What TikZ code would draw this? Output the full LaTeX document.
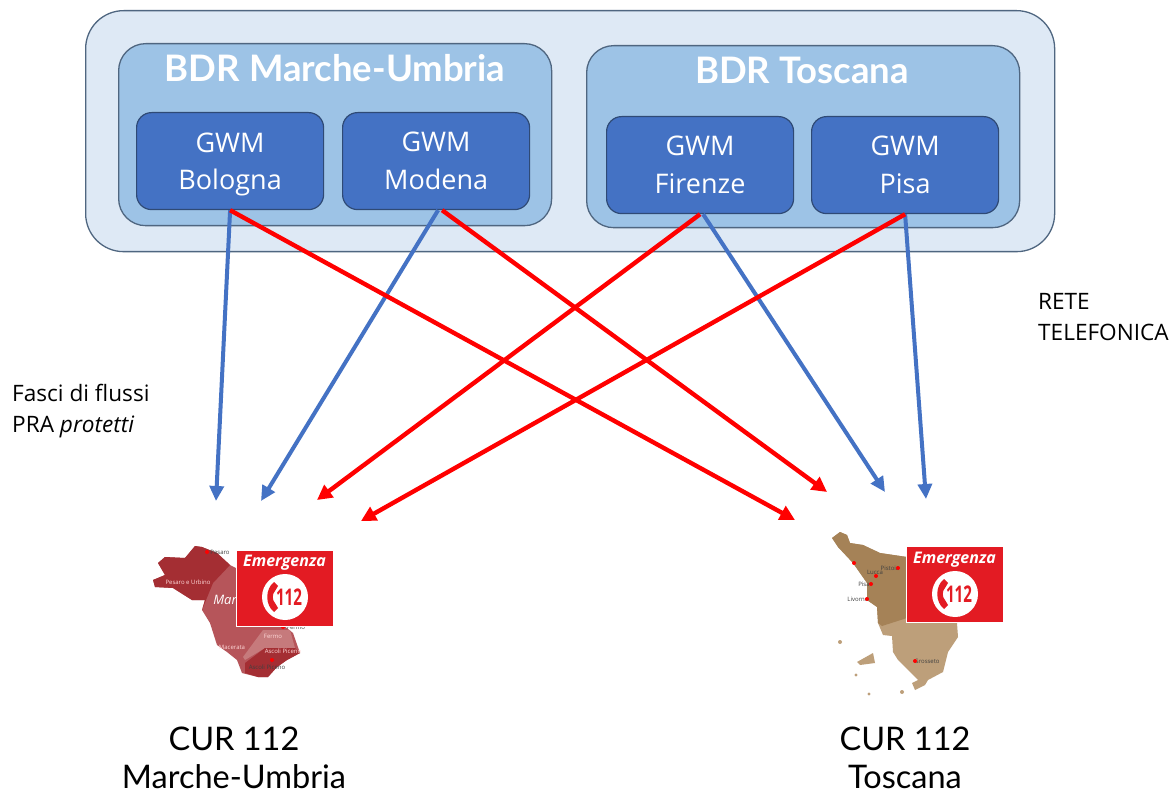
\documentclass[tikz,border=0pt]{standalone}
\usepackage{fontspec}
\setmainfont{Open Sans}
\newfontfamily\titlefont{Lato}
\usetikzlibrary{arrows.meta}
\definecolor{outerfill}{HTML}{DEE9F5}
\definecolor{midfill}{HTML}{9DC3E6}
\definecolor{gwmfill}{HTML}{4472C4}
\definecolor{edgeblue}{HTML}{4F6680}
\definecolor{gwmedge}{HTML}{2F4A75}
\definecolor{linkblue}{HTML}{4472C4}
\definecolor{badgered}{HTML}{E31B23}
\definecolor{mapdark}{HTML}{A42E33}
\definecolor{mapmid}{HTML}{B6555A}
\definecolor{mapsoft}{HTML}{C67A7C}
\definecolor{tosdark}{HTML}{A58257}
\definecolor{toslight}{HTML}{BD9F7A}
\tikzset{
  panel/.style={draw=edgeblue,line width=1.3pt,inner sep=0pt,anchor=north west},
  outerbox/.style={panel,fill=outerfill,rounded corners=38pt,minimum width=969pt,minimum height=241pt},
  bdrbox/.style={panel,fill=midfill,rounded corners=27pt,minimum width=433pt,minimum height=182pt},
  gwmbox/.style={draw=gwmedge,line width=1.2pt,fill=gwmfill,rounded corners=15pt,inner sep=0pt,
    minimum width=187pt,minimum height=97pt,text=white,align=center,font=\fontsize{27}{37.5}\selectfont,anchor=north west},
  bdrtitle/.style={text=white,font=\titlefont\bfseries\fontsize{36.5}{40}\selectfont,inner sep=0pt},
  bluelink/.style={draw=linkblue,line width=4pt,-{Triangle[length=15pt,width=14pt]}},
  redlink/.style={draw=red,line width=4.4pt,-{Triangle[length=15pt,width=15pt]}},
  note/.style={align=left,anchor=west,inner sep=0pt,font=\fontsize{22.6}{31}\selectfont,text=black},
  curlabel/.style={align=center,inner sep=0pt,font=\titlefont\fontsize{32.5}{38}\selectfont,text=black},
  badge/.style={fill=badgered,draw=white,line width=1.2pt,minimum width=97pt,minimum height=76pt,inner sep=0pt,anchor=north west},
  badgetext/.style={text=white,inner sep=0pt,font=\itshape\bfseries\fontsize{16}{18}\selectfont},
  badgedisc/.style={circle,fill=white,minimum size=46pt,inner sep=0pt},
  badgenum/.style={text=badgered,inner sep=0pt,font=\bfseries\fontsize{23}{25}\selectfont},
  tiny/.style={inner sep=0pt,font=\fontsize{6}{7}\selectfont,text=white!85!red},
  tinyblack/.style={inner sep=0pt,font=\fontsize{6}{7}\selectfont,text=black!75},
  phoneicon/.pic={
    \fill[badgered] (-11,-15) .. controls (-20,-8) and (-20,8) .. (-11,15) -- (-7,11) -- (-10,6)
      .. controls (-13,3) and (-13,-3) .. (-10,-6) -- (-7,-11) -- cycle;
  }
}
\newcommand{\nodepth}[1]{\raisebox{0pt}[\height][0pt]{#1}}
\begin{document}
\begin{tikzpicture}[x=1pt,y=-1pt]
\useasboundingbox (0,0) rectangle (1176,794);
\fill[white] (0,0) rectangle (1176,794);

\node[outerbox] (outer) at (85,10) {};
\node[bdrbox] (bdrmu) at (118,43) {};
\node[bdrbox] (bdrto) at (586,45) {};
\node[bdrtitle] (tmu) at (335,68) {BDR Marche-Umbria};
\node[bdrtitle] (tto) at (802,70) {BDR Toscana};
\node[gwmbox] (bo) at (136,112) {GWM\\\nodepth{Bologna}};
\node[gwmbox] (mo) at (342,112) {GWM\\Modena};
\node[gwmbox] (fi) at (606,116) {GWM\\Firenze};
\node[gwmbox] (pi) at (811,116) {GWM\\Pisa};

\node[note] (rete) at (1038,317) {RETE\\TELEFONICA};
\node[note] (fasci) at (12,408) {Fasci di flussi\\\nodepth{PRA \textit{protetti}}};

% Marche-Umbria map
\fill[mapmid] (195,546) -- (202,547) -- (217,553) -- (230,565) -- (240,570) -- (262,600) -- (283,625) -- (293,633) -- (300,653) -- (287,660) -- (277,667) -- (268,677) -- (258,677) -- (242,673) -- (237,660) -- (227,652) -- (217,645) -- (210,623) -- (202,610) -- (205,600) -- (192,600) -- (173,588) -- (155,587) -- (153,580) -- (165,575) -- (158,563) -- (165,557) -- (185,558) -- cycle;
\fill[mapdark] (195,546) -- (202,547) -- (217,553) -- (230,565) -- (213,583) -- (202,610) -- (205,600) -- (192,600) -- (173,588) -- (155,587) -- (153,580) -- (165,575) -- (158,563) -- (165,557) -- (185,558) -- cycle;
\fill[mapsoft] (243,657) -- (263,630) -- (290,630) -- (295,648) -- (265,648) -- (245,660) -- cycle;
\fill[mapdark] (245,663) -- (265,648) -- (295,648) -- (300,653) -- (287,660) -- (277,667) -- (268,677) -- (258,677) -- (245,673) -- cycle;
\node[tiny] (mp) at (188,582) {Pesaro e Urbino};
\node[tiny] (ma) at (232,647) {Macerata};
\node[tiny] (mf) at (273,636) {Fermo};
\node[tiny] (mc) at (283,651) {Ascoli Piceno};
\node[tinyblack] (mb) at (220,552) {Pesaro};
\node[tinyblack] (mg) at (296,627) {Fermo};
\node[tinyblack] (mh) at (267,667) {Ascoli Piceno};
\node[text=white,font=\itshape\fontsize{13}{14}\selectfont,inner sep=0pt] (mlab) at (225,600) {Mar};
\foreach \mx/\my in {207/552,283/627,272/660}
  \fill[red] (\mx,\my) circle (2pt);

% Toscana map
\fill[toslight] (832,538) -- (840,532) -- (847,535) -- (850,543) -- (863,545) -- (880,553) -- (907,557) -- (930,600) -- (957,623) -- (958,637) -- (948,652) -- (943,672) -- (928,680) -- (925,685) -- (915,690) -- (912,683) -- (918,680) -- (912,674) -- (898,660) -- (893,652) -- (892,636) -- (883,635) -- (878,623) -- (877,607) -- (867,600) -- (867,583) -- (853,563) -- (838,547) -- cycle;
\fill[tosdark] (838,547) -- (832,538) -- (840,532) -- (847,535) -- (850,543) -- (863,545) -- (880,553) -- (907,557) -- (907,618) -- (882,626) -- (878,623) -- (877,607) -- (867,600) -- (867,583) -- (853,563) -- cycle;
\fill[toslight] (857,662) -- (873,653) -- (875,663) -- (860,665) -- cycle;
\fill[toslight] (840,642) circle (2pt) (856,675) circle (1.6pt) (869,694) circle (1.6pt) (902,692) circle (2pt);
\node[tinyblack] (tg) at (927,661) {Grosseto};
\node[tinyblack] (tl) at (858,599) {Livorno};
\node[tinyblack] (ti) at (864,584) {Pisa};
\node[tinyblack] (tu) at (875,572) {Lucca};
\node[tinyblack] (ts) at (890,568) {Pistoia};
\foreach \mx/\my in {854/563,876/576,871/584,867/599,898/568,915/661}
  \fill[red] (\mx,\my) circle (2pt);

% Emergenza badges
\node[badge] (bl) at (236,550) {};
\node[badgetext] (blt) at (284.5,563) {Emergenza};
\node[badgedisc] (bld) at (285,597) {};
\node[badgenum] (bln) at (289,597) {\scalebox{.66}[1]{112}};
\pic at (bld.center) {phoneicon};
\node[badge] (br) at (906,546) {};
\node[badgetext] (brt) at (954.5,560) {Emergenza};
\node[badgedisc] (brd) at (955,594) {};
\node[badgenum] (brn) at (959,594) {\scalebox{.66}[1]{112}};
\pic at (brd.center) {phoneicon};

\node[curlabel] (cmu) at (234,758) {CUR 112\\Marche-Umbria};
\node[curlabel] (cto) at (905,758) {CUR 112\\Toscana};

% free arrow ends
\coordinate (e1) at (216,501);
\coordinate (e2) at (261,501);
\coordinate (e3) at (317,500);
\coordinate (e4) at (361,521);
\coordinate (e5) at (795,520);
\coordinate (e6) at (827,492);
\coordinate (e7) at (885,492);
\coordinate (e8) at (926,499);

\draw[bluelink] (bo.south) -- (e1);
\draw[bluelink] ([xshift=2pt]mo.south) -- (e2);
\draw[bluelink] ([xshift=3pt]fi.south) -- (e7);
\draw[bluelink] (pi.south) -- (e8);
\draw[redlink] (bo.south) -- (e5);
\draw[redlink] ([xshift=6pt]mo.south) -- (e6);
\draw[redlink] (fi.south) -- (e3);
\draw[redlink] (pi.south) -- (e4);
\end{tikzpicture}
\end{document}
